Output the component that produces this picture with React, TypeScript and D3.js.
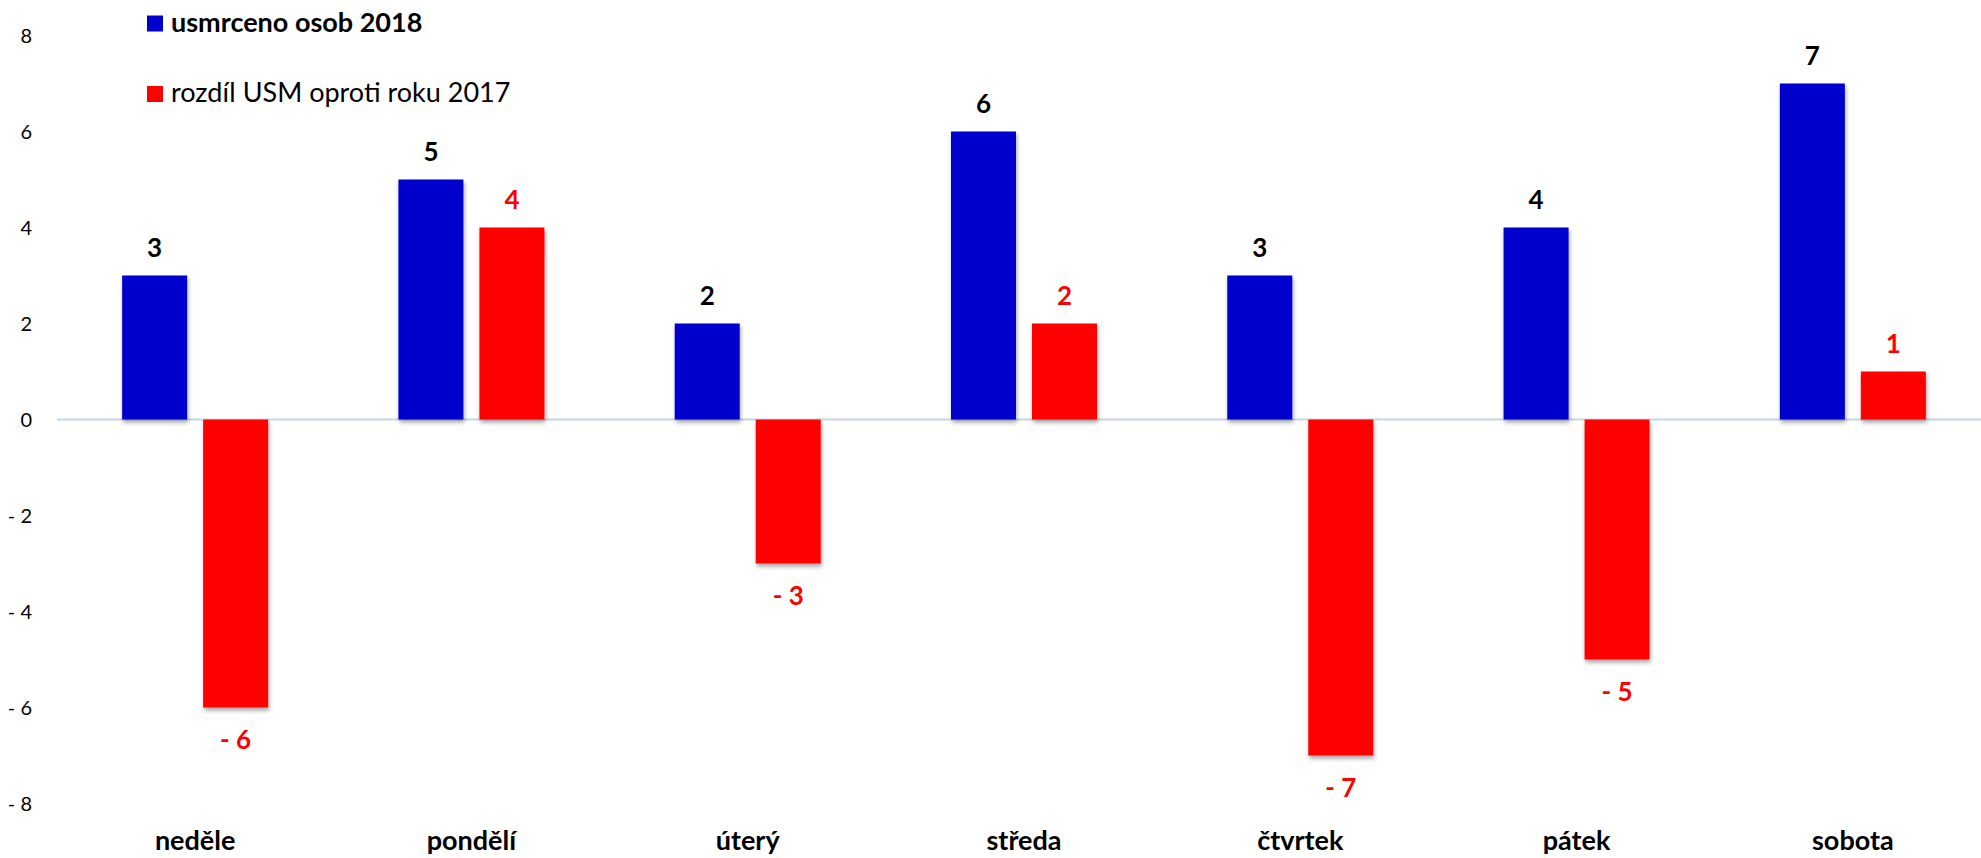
import React, { useEffect, useRef } from "react";
import * as d3 from "d3";

const categories = ["neděle", "pondělí", "úterý", "středa", "čtvrtek", "pátek", "sobota"];
const killed2018 = [3, 5, 2, 6, 3, 4, 7];
const diff2017 = [-6, 4, -3, 2, -7, -5, 1];
const yTicks = [-8, -6, -4, -2, 0, 2, 4, 6, 8];
const seriesNames = ["usmrceno osob 2018", "rozdíl USM oproti roku 2017"];
const seriesColors = ["#0000CC", "#FF0000"];

const W = 1981;
const H = 858;
const FONT = "Lato, 'Open Sans', sans-serif";

const fmt = (v: number) => (v < 0 ? "- " + Math.abs(v) : String(v));

export default function App() {
  const ref = useRef<SVGSVGElement>(null);

  useEffect(() => {
    const svg = d3.select(ref.current);
    svg.selectAll("*").remove();

    const defs = svg.append("defs");
    const f = defs
      .append("filter")
      .attr("id", "shadow")
      .attr("x", "-20%")
      .attr("y", "-20%")
      .attr("width", "140%")
      .attr("height", "140%");
    f.append("feDropShadow")
      .attr("dx", 1)
      .attr("dy", 3)
      .attr("stdDeviation", 2)
      .attr("flood-color", "#000")
      .attr("flood-opacity", 0.35);

    const y = d3.scaleLinear().domain([-8, 8]).range([803.5, 35.5]);
    const x0 = d3.scaleBand<string>().domain(categories).range([57, 1991]).padding(0);
    const inner = 146;
    const off = (x0.bandwidth() - inner) / 2;
    const x1 = d3
      .scaleBand<number>()
      .domain([0, 1])
      .range([off, off + inner])
      .paddingInner(0.1975)
      .paddingOuter(0);

    // y tick labels
    svg
      .append("g")
      .selectAll("text")
      .data(yTicks)
      .join("text")
      .attr("x", 32)
      .attr("y", (d) => y(d))
      .attr("dy", "0.35em")
      .attr("text-anchor", "end")
      .attr("font-family", FONT)
      .attr("font-size", 20)
      .attr("fill", "#000")
      .text((d) => fmt(d));

    // zero line
    svg
      .append("line")
      .attr("x1", 57)
      .attr("x2", W)
      .attr("y1", y(0))
      .attr("y2", y(0))
      .attr("stroke", "#C6D5E9")
      .attr("stroke-width", 2);

    const data = categories.map((c, i) => ({ c, vals: [killed2018[i], diff2017[i]] }));

    const groups = svg
      .append("g")
      .selectAll("g")
      .data(data)
      .join("g")
      .attr("transform", (d) => `translate(${x0(d.c)},0)`);

    groups
      .selectAll("rect")
      .data((d) => d.vals.map((v, s) => ({ v, s })))
      .join("rect")
      .attr("x", (d) => x1(d.s)!)
      .attr("width", x1.bandwidth())
      .attr("y", (d) => Math.min(y(d.v), y(0)))
      .attr("height", (d) => Math.abs(y(d.v) - y(0)))
      .attr("fill", (d) => seriesColors[d.s])
      .attr("filter", "url(#shadow)");

    groups
      .selectAll("text.val")
      .data((d) => d.vals.map((v, s) => ({ v, s })))
      .join("text")
      .attr("class", "val")
      .attr("x", (d) => x1(d.s)! + x1.bandwidth() / 2)
      .attr("y", (d) => (d.v >= 0 ? y(d.v) - 18.5 : y(d.v) + 41))
      .attr("text-anchor", "middle")
      .attr("font-family", FONT)
      .attr("font-weight", "bold")
      .attr("font-size", 26)
      .attr("fill", (d) => (d.s === 0 ? "#000" : "#FF0000"))
      .text((d) => fmt(d.v));

    // category labels
    svg
      .append("g")
      .selectAll("text")
      .data(categories)
      .join("text")
      .attr("x", (d) => x0(d)! + x0.bandwidth() / 2)
      .attr("y", 850)
      .attr("text-anchor", "middle")
      .attr("font-family", FONT)
      .attr("font-weight", "bold")
      .attr("font-size", 27)
      .attr("fill", "#000")
      .text((d) => d);

    // legend
    const leg = svg
      .append("g")
      .selectAll("g")
      .data(seriesNames)
      .join("g")
      .attr("transform", (_, i) => `translate(147,${15.5 + i * 70.5})`);
    leg
      .append("rect")
      .attr("width", 16)
      .attr("height", 16)
      .attr("fill", (_, i) => seriesColors[i]);
    leg
      .append("text")
      .attr("x", 24)
      .attr("y", 16.2)
      .attr("font-family", FONT)
      .attr("font-size", 27)
      .attr("font-weight", (_, i) => (i === 0 ? "bold" : "normal"))
      .attr("fill", "#000")
      .text((d) => d);
  }, []);

  return (
    <svg
      ref={ref}
      width={W}
      height={H}
      style={{ position: "absolute", left: 0, top: 0, background: "#fff" }}
    />
  );
}
